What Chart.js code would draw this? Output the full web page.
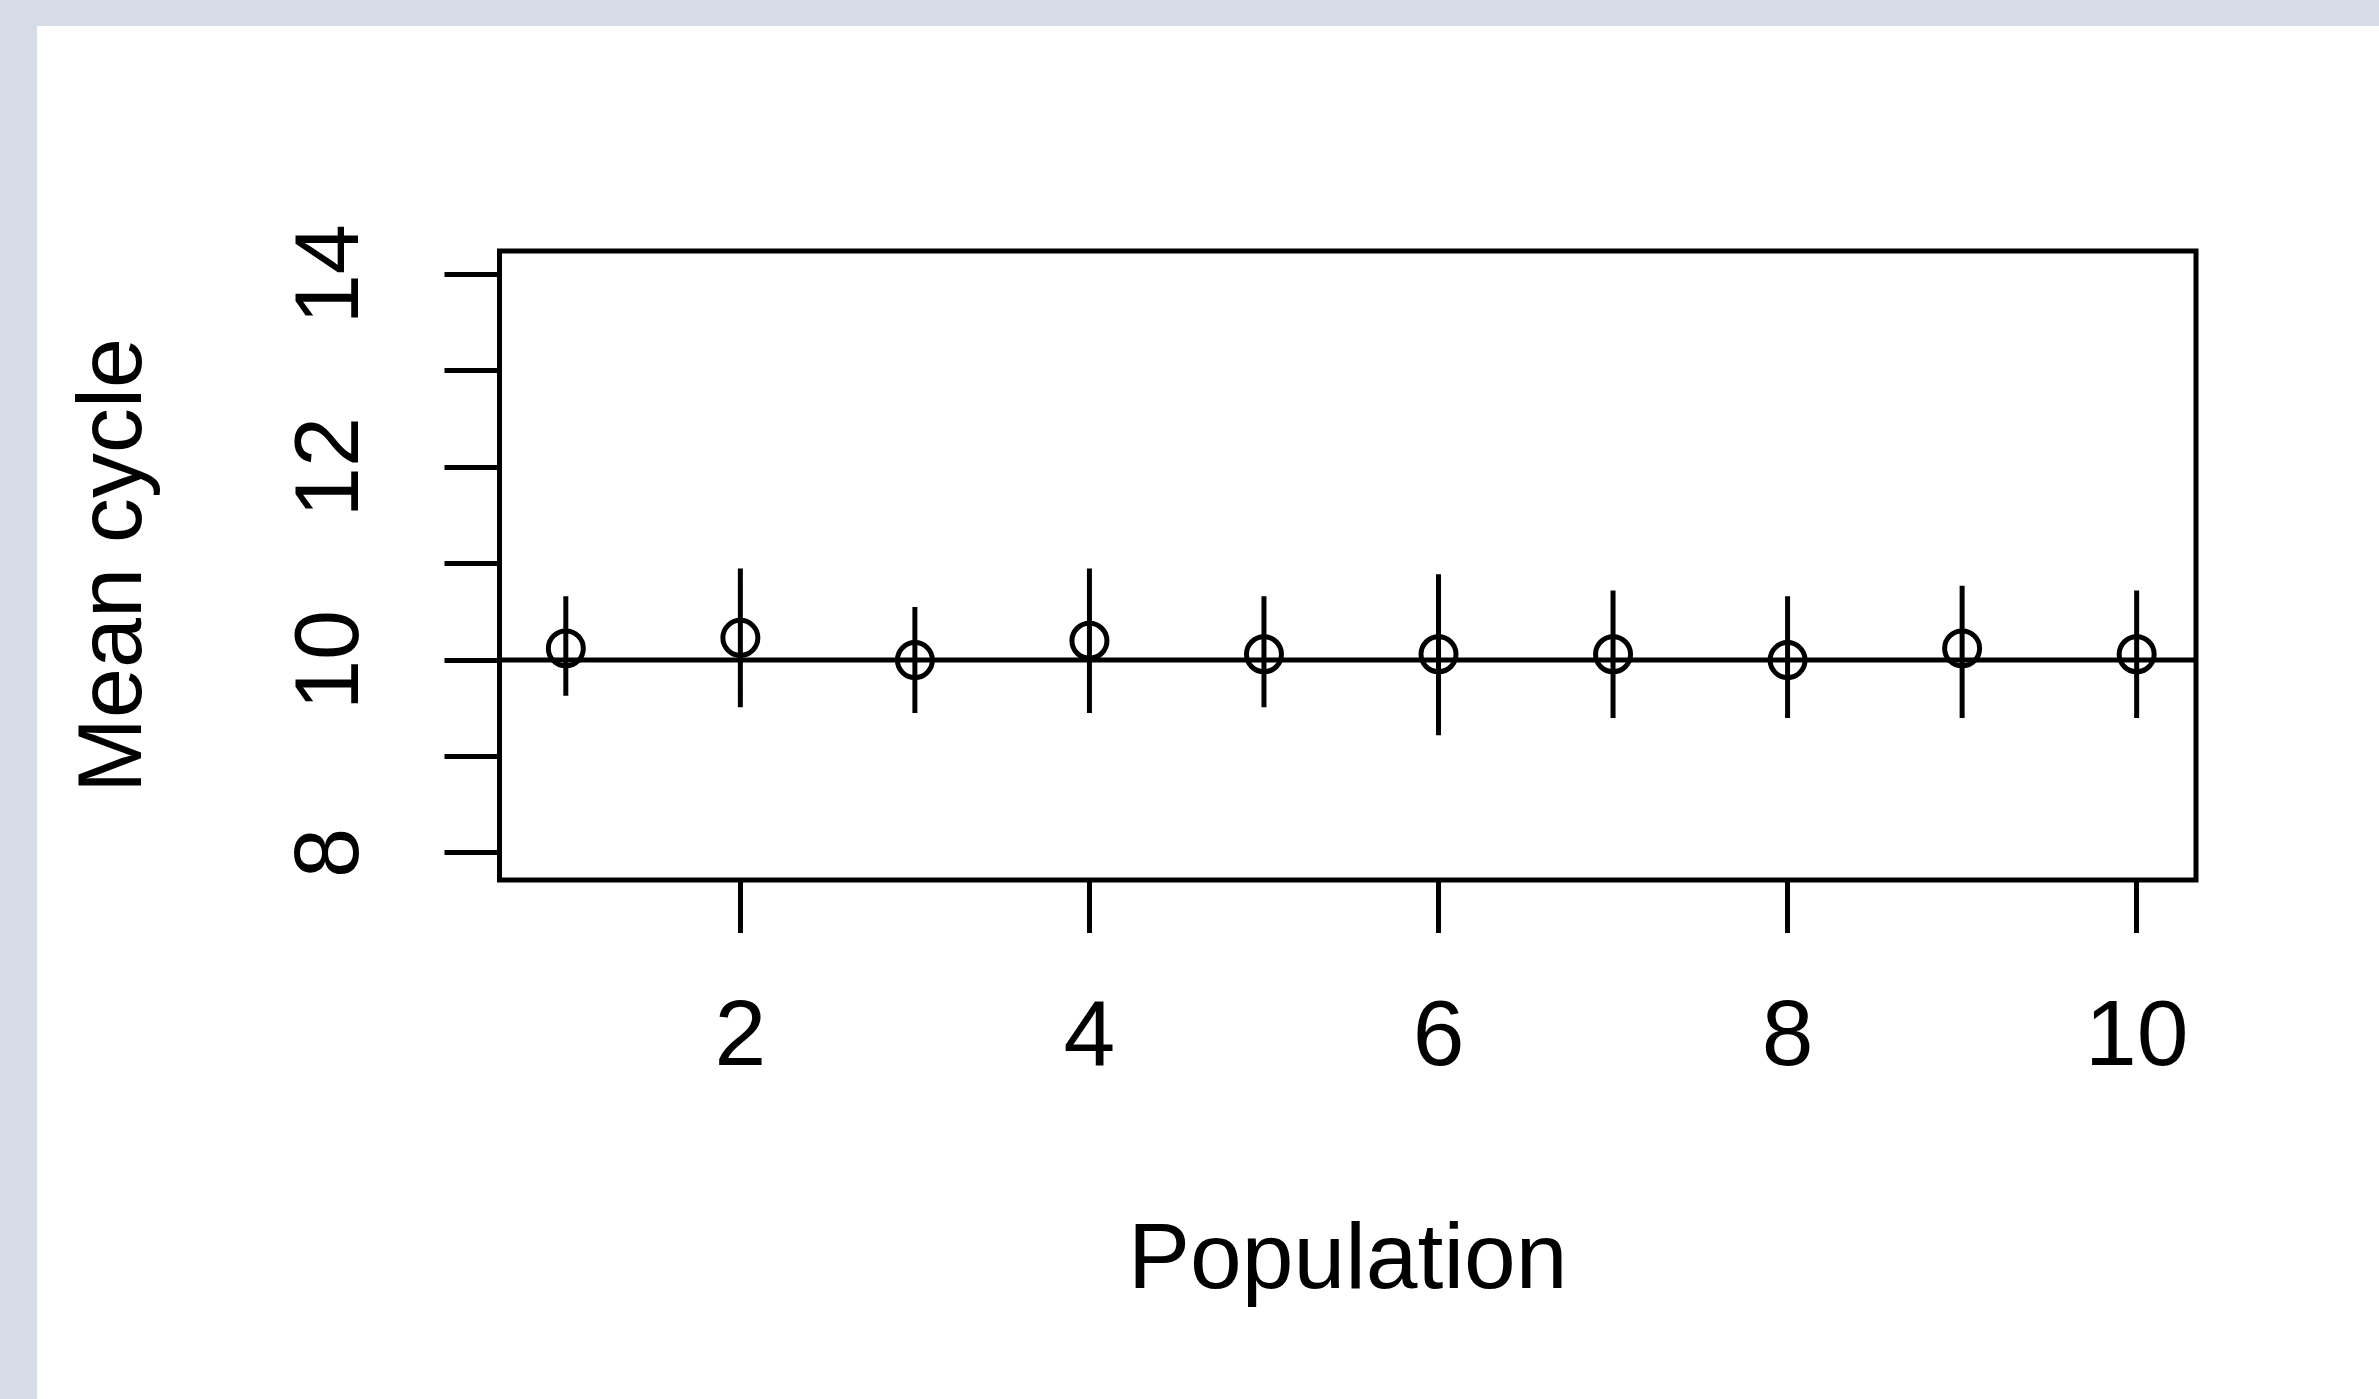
<!DOCTYPE html>
<html>
<head>
<meta charset="utf-8">
<script src="https://cdn.jsdelivr.net/npm/chart.js@4.4.1/dist/chart.umd.min.js"></script>
<style>
  html, body { margin: 0; padding: 0; background: #d6dce5; overflow: hidden; }
  #c { display: block; }
</style>
</head>
<body>
<canvas id="c" width="2379" height="1399"></canvas>
<script>
// ---- data ----
const populations = [1, 2, 3, 4, 5, 6, 7, 8, 9, 10];
const meanCycle   = [10.12, 10.23, 10.00, 10.20, 10.06, 10.06, 10.06, 10.00, 10.12, 10.06];
const upperCI     = [10.66, 10.95, 10.55, 10.95, 10.66, 10.89, 10.72, 10.66, 10.77, 10.72];
const lowerCI     = [9.63, 9.51, 9.45, 9.45, 9.51, 9.22, 9.40, 9.40, 9.40, 9.40];
const refLine     = 10;
const xTickValues = [2, 4, 6, 8, 10];
const yTickValues = [8, 9, 10, 11, 12, 13, 14];
const yTickLabels = ['8', '', '10', '', '12', '', '14'];
const xRange = [0.62, 10.34];
const yRange = [7.72, 14.24];

// ---- build datasets ----
const pointData = populations.map((p, i) => ({ x: p, y: meanCycle[i] }));
const barData = [];
populations.forEach((p, i) => {
  barData.push({ x: p, y: lowerCI[i] });
  barData.push({ x: p, y: upperCI[i] });
  barData.push({ x: p, y: null });
});
const lineData = [{ x: xRange[0], y: refLine }, { x: xRange[1], y: refLine }];

const FONT = "'Liberation Sans', Arial, sans-serif";

const frame = {
  id: 'frame',
  beforeDraw(chart) {
    const ctx = chart.ctx;
    ctx.save();
    ctx.fillStyle = '#d6dce5';
    ctx.fillRect(0, 0, chart.width, chart.height);
    ctx.fillStyle = '#ffffff';
    ctx.fillRect(37, 26, chart.width - 37, chart.height - 26);
    ctx.restore();
  },
  afterDraw(chart) {
    const a = chart.chartArea;
    const ctx = chart.ctx;
    ctx.save();
    ctx.strokeStyle = '#000';
    ctx.lineWidth = 5;
    ctx.strokeRect(a.left, a.top, a.right - a.left, a.bottom - a.top);
    ctx.restore();
  }
};

new Chart(document.getElementById('c'), {
  type: 'scatter',
  data: {
    datasets: [
      {
        type: 'line',
        data: lineData,
        borderColor: '#000',
        borderWidth: 5,
        pointRadius: 0,
        fill: false,
        order: 1
      },
      {
        type: 'scatter',
        data: pointData,
        pointStyle: 'circle',
        pointRadius: 17.5,
        pointBorderWidth: 5,
        borderColor: '#000',
        backgroundColor: 'rgba(0,0,0,0)',
        pointHoverRadius: 17.5,
        order: 2
      },
      {
        type: 'line',
        data: barData,
        borderColor: '#000',
        borderWidth: 5,
        borderCapStyle: 'butt',
        pointRadius: 0,
        spanGaps: false,
        fill: false,
        tension: 0,
        order: 3
      }
    ]
  },
  options: {
    responsive: false,
    devicePixelRatio: 1,
    animation: false,
    events: [],
    layout: { padding: { left: 0, top: 251, right: 183, bottom: 0 } },
    plugins: { legend: { display: false }, tooltip: { enabled: false } },
    scales: {
      x: {
        type: 'linear',
        position: 'bottom',
        min: xRange[0],
        max: xRange[1],
        afterBuildTicks: s => { s.ticks = xTickValues.map(v => ({ value: v })); },
        afterFit: s => { s.height = 519; },
        grid: { display: true, drawOnChartArea: false, drawTicks: true, tickLength: 53, tickWidth: 5, tickColor: '#000' },
        border: { display: false },
        ticks: {
          color: '#000',
          font: { family: FONT, size: 93 },
          padding: 51,
          maxRotation: 0,
          minRotation: 0,
          autoSkip: false,
          callback: v => String(v)
        },
        title: {
          display: true,
          text: 'Population',
          color: '#000',
          font: { family: FONT, size: 93 },
          padding: { top: 0, bottom: 81 }
        }
      },
      y: {
        type: 'linear',
        position: 'left',
        min: yRange[0],
        max: yRange[1],
        afterBuildTicks: s => { s.ticks = yTickValues.map(v => ({ value: v })); },
        afterFit: s => { s.width = 499.5; },
        grid: { display: true, drawOnChartArea: false, drawTicks: true, tickLength: 55, tickWidth: 5, tickColor: '#000' },
        border: { display: false },
        ticks: {
          color: '#000',
          font: { family: FONT, size: 90 },
          padding: 61,
          minRotation: 90,
          maxRotation: 90,
          crossAlign: 'center',
          autoSkip: false,
          callback: v => { const i = yTickValues.indexOf(v); return i >= 0 ? yTickLabels[i] : ''; }
        },
        title: {
          display: true,
          text: 'Mean cycle',
          color: '#000',
          font: { family: FONT, size: 90 },
          padding: { top: 62, bottom: 0 }
        }
      }
    }
  },
  plugins: [frame]
});
</script>
</body>
</html>
